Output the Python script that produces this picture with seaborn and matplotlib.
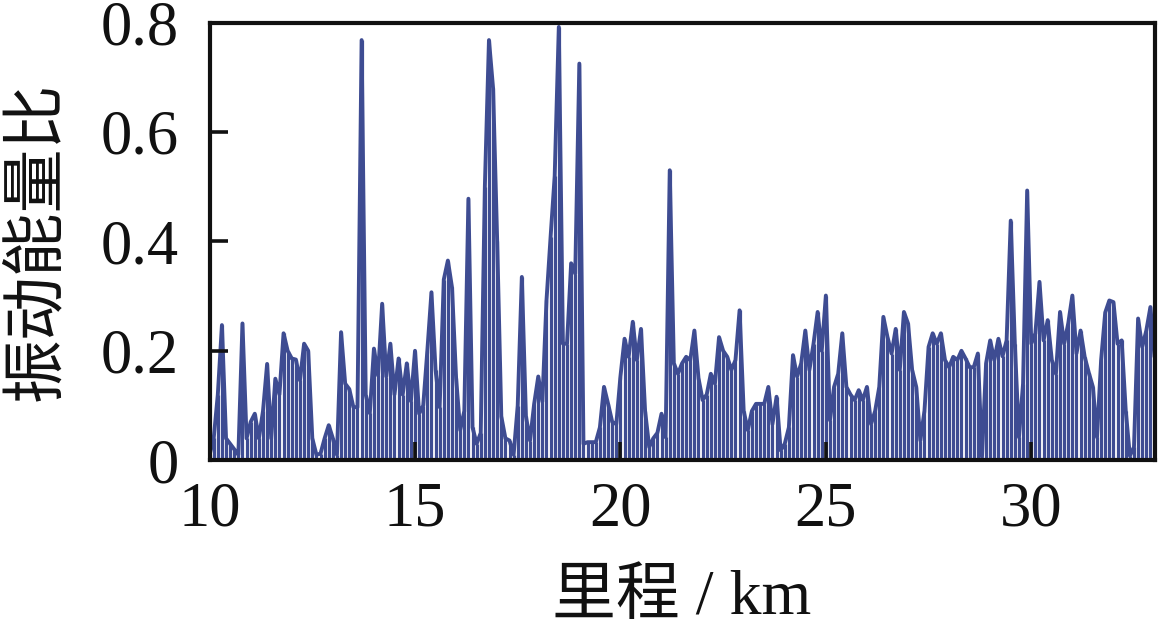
import numpy as np
import pandas as pd
import matplotlib
matplotlib.use("Agg")
import matplotlib.pyplot as plt
import seaborn as sns

# mileage (km), one sample every 0.1 km from 10.0 to 33.0
km = np.round(np.arange(100, 331) / 10, 1)

# vibration energy ratio, ten values per km
ratio = [
    0.01, 0.04, 0.12, 0.247, 0.04, 0.03, 0.02, 0.01, 0.25, 0.04,        # 10
    0.07, 0.085, 0.04, 0.09, 0.176, 0.04, 0.149, 0.12, 0.232, 0.20,     # 11
    0.186, 0.184, 0.146, 0.213, 0.20, 0.04, 0.01, 0.012, 0.04, 0.064,   # 12
    0.04, 0.01, 0.234, 0.14, 0.13, 0.097, 0.097, 0.768, 0.12, 0.086,    # 13
    0.204, 0.155, 0.286, 0.153, 0.213, 0.12, 0.186, 0.12, 0.177, 0.108, # 14
    0.20, 0.085, 0.10, 0.20, 0.307, 0.165, 0.097, 0.33, 0.365, 0.316,   # 15
    0.15, 0.055, 0.09, 0.478, 0.06, 0.03, 0.05, 0.50, 0.768, 0.68,      # 16
    0.40, 0.08, 0.04, 0.036, 0.01, 0.10, 0.335, 0.08, 0.036, 0.103,     # 17
    0.153, 0.107, 0.292, 0.408, 0.52, 0.792, 0.213, 0.213, 0.36, 0.341, # 18
    0.725, 0.03, 0.033, 0.033, 0.033, 0.06, 0.134, 0.103, 0.07, 0.066,  # 19
    0.153, 0.222, 0.189, 0.253, 0.183, 0.24, 0.09, 0.024, 0.04, 0.05,   # 20
    0.085, 0.042, 0.53, 0.177, 0.158, 0.177, 0.189, 0.183, 0.237, 0.15, # 21
    0.11, 0.12, 0.158, 0.14, 0.225, 0.20, 0.189, 0.165, 0.183, 0.274,   # 22
    0.09, 0.055, 0.09, 0.103, 0.103, 0.103, 0.134, 0.066, 0.116, 0.018, # 23
    0.03, 0.06, 0.192, 0.153, 0.177, 0.237, 0.165, 0.213, 0.271, 0.20,  # 24
    0.301, 0.073, 0.134, 0.158, 0.232, 0.134, 0.12, 0.11, 0.128, 0.11,  # 25
    0.134, 0.066, 0.09, 0.134, 0.262, 0.225, 0.195, 0.24, 0.165, 0.271, # 26
    0.25, 0.165, 0.134, 0.036, 0.09, 0.207, 0.232, 0.213, 0.232, 0.183, # 27
    0.17, 0.189, 0.183, 0.20, 0.186, 0.17, 0.17, 0.195, 0.006, 0.177,   # 28
    0.219, 0.183, 0.222, 0.19, 0.219, 0.438, 0.213, 0.042, 0.14, 0.493, # 29
    0.213, 0.232, 0.326, 0.219, 0.256, 0.183, 0.158, 0.271, 0.213, 0.25,# 30
    0.301, 0.195, 0.237, 0.189, 0.16, 0.134, 0.042, 0.183, 0.27, 0.292, # 31
    0.289, 0.213, 0.219, 0.09, 0.008, 0.024, 0.259, 0.207, 0.237, 0.28, # 32
    0.189,                                                              # 33
]

x_ticks = [10, 15, 20, 25, 30]
y_ticks = [0, 0.2, 0.4, 0.6, 0.8]
y_ticklabels = ["0", "0.2", "0.4", "0.6", "0.8"]

BLUE = "#3e4c92"
INK = "#111111"

sns.set_theme(style="ticks")
plt.rcParams["font.family"] = ["Liberation Serif", "Noto Sans CJK SC", "DejaVu Sans"]
plt.rcParams["text.color"] = INK
plt.rcParams["axes.labelcolor"] = INK

df = pd.DataFrame({"km": km, "ratio": ratio})

fig = plt.figure(figsize=(11.58, 6.27), dpi=100)
ax = fig.add_axes([0.181, 0.266, 0.816, 0.698])
ax.set_axisbelow(False)

ax.vlines(df["km"], 0, df["ratio"], color=BLUE, linewidth=2.3, zorder=2)
sns.lineplot(data=df, x="km", y="ratio", ax=ax, color=BLUE, linewidth=2.8, zorder=2.2)

ax.set_xlim(10, 33)
ax.set_ylim(0, 0.8)
ax.set_xticks(x_ticks)
ax.set_yticks(y_ticks)
ax.set_yticklabels(y_ticklabels)

for s in ax.spines.values():
    s.set_linewidth(3)
    s.set_color(INK)
    s.set_zorder(5)

ax.tick_params(axis="both", direction="in", length=13, width=2.6, color=INK,
               labelcolor=INK, labelsize=45, top=False, right=False)
ax.tick_params(axis="x", pad=15)
ax.tick_params(axis="y", pad=22)

ax.set_xlabel("里程 / km", fontsize=46, labelpad=22, color=INK)
ax.set_ylabel("振动能量比", fontsize=46, labelpad=24, color=INK)

plt.savefig("out.png", dpi=100)
plt.close()
